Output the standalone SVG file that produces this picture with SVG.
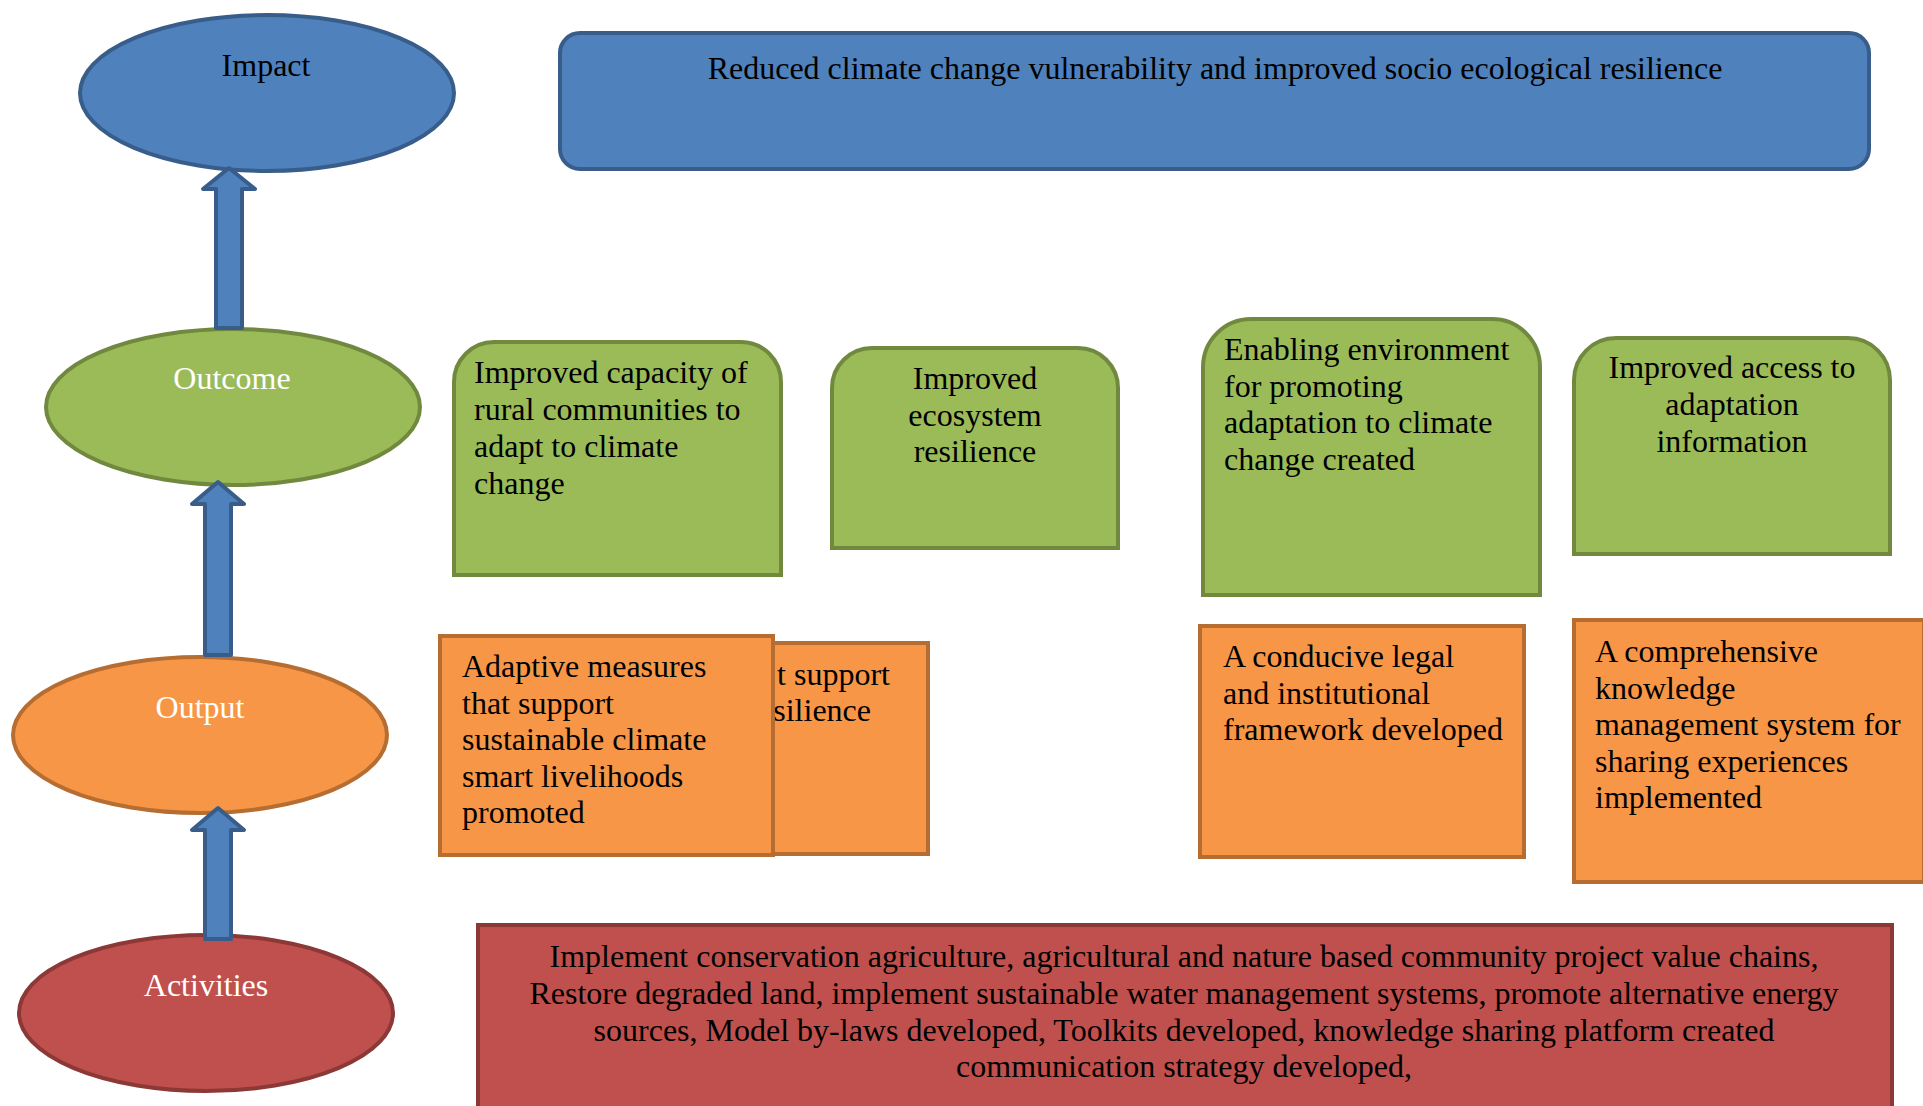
<svg xmlns="http://www.w3.org/2000/svg" width="1923" height="1106" viewBox="0 0 1923 1106">
<style>
text{font-family:"Liberation Serif","Times New Roman",serif;font-size:32px;fill:#000}
.w{fill:#fff}
.c{text-anchor:middle}
.e{text-anchor:end}
.blue{fill:#4f81bd;stroke:#385d8a;stroke-width:4}
.green{fill:#9bbb59;stroke:#71893f;stroke-width:4}
.orange{fill:#f79646;stroke:#b66d31;stroke-width:4}
.red{fill:#c0504d;stroke:#8c3836;stroke-width:4}
.arrow{fill:#4f81bd;stroke:#385d8a;stroke-width:4;stroke-linejoin:round}
</style>
<rect width="1923" height="1106" fill="#fff"/>
<g id="impact"><ellipse class="blue" cx="267" cy="93" rx="187" ry="78"/><text class="c" x="266" y="76">Impact</text></g>
<g id="outcome"><ellipse class="green" cx="233" cy="407" rx="187" ry="78"/><text class="c w" x="232" y="389">Outcome</text></g>
<g id="output"><ellipse class="orange" cx="200" cy="735" rx="187" ry="78"/><text class="c w" x="200" y="718">Output</text></g>
<g id="activities"><ellipse class="red" cx="206" cy="1013" rx="187" ry="78"/><text class="c w" x="206" y="996">Activities</text></g>
<g id="impact-box"><rect class="blue" x="560" y="33" width="1309" height="136" rx="20"/><text class="c" x="1215" y="79">Reduced climate change vulnerability and improved socio ecological resilience</text></g>
<g id="outcome-1"><path class="green" d="M454 575V382A40 40 0 0 1 494 342H741A40 40 0 0 1 781 382V575Z"/>
<text x="474" y="383">Improved capacity of</text><text x="474" y="420">rural communities to</text><text x="474" y="457">adapt to climate</text><text x="474" y="494">change</text></g>
<g id="outcome-2"><path class="green" d="M832 548V388A40 40 0 0 1 872 348H1078A40 40 0 0 1 1118 388V548Z"/>
<text class="c" x="975" y="389">Improved</text><text class="c" x="975" y="426">ecosystem</text><text class="c" x="975" y="462">resilience</text></g>
<g id="outcome-3"><path class="green" d="M1203 595V367A48 48 0 0 1 1251 319H1492A48 48 0 0 1 1540 367V595Z"/>
<text x="1224" y="360">Enabling environment</text><text x="1224" y="397">for promoting</text><text x="1224" y="433">adaptation to climate</text><text x="1224" y="470">change created</text></g>
<g id="outcome-4"><path class="green" d="M1574 554V380A42 42 0 0 1 1616 338H1848A42 42 0 0 1 1890 380V554Z"/>
<text class="c" x="1732" y="378">Improved access to</text><text class="c" x="1732" y="415">adaptation</text><text class="c" x="1732" y="452">information</text></g>
<g id="output-2"><rect class="orange" x="600" y="643" width="328" height="211"/>
<text class="e" x="890" y="685">t support</text><text class="e" x="871" y="721">silience</text></g>
<g id="output-1"><rect class="orange" x="440" y="636" width="333" height="219"/>
<text x="462" y="677">Adaptive measures</text><text x="462" y="714">that support</text><text x="462" y="750">sustainable climate</text><text x="462" y="787">smart livelihoods</text><text x="462" y="823">promoted</text></g>
<g id="output-3"><rect class="orange" x="1200" y="626" width="324" height="231"/>
<text x="1223" y="667">A conducive legal</text><text x="1223" y="704">and institutional</text><text x="1223" y="740">framework developed</text></g>
<g id="output-4"><rect class="orange" x="1574" y="620" width="350" height="262"/>
<text x="1595" y="662">A comprehensive</text><text x="1595" y="699">knowledge</text><text x="1595" y="735">management system for</text><text x="1595" y="772">sharing experiences</text><text x="1595" y="808">implemented</text></g>
<g id="activities-box"><rect class="red" x="478" y="925" width="1414" height="190"/>
<text class="c" x="1184" y="967">Implement conservation agriculture, agricultural and nature based community project value chains,</text>
<text class="c" x="1184" y="1004">Restore degraded land, implement sustainable water management systems, promote alternative energy</text>
<text class="c" x="1184" y="1041">sources, Model by-laws developed, Toolkits developed, knowledge sharing platform created</text>
<text class="c" x="1184" y="1077">communication strategy developed,</text></g>
<g id="connectors">
<path class="arrow" d="M229 168L255 189H242V328H216V189H203Z"/>
<path class="arrow" d="M218 482L244 504H231V655H205V504H192Z"/>
<path class="arrow" d="M218 808L244 830H231V939H205V830H192Z"/>
</g>
</svg>
